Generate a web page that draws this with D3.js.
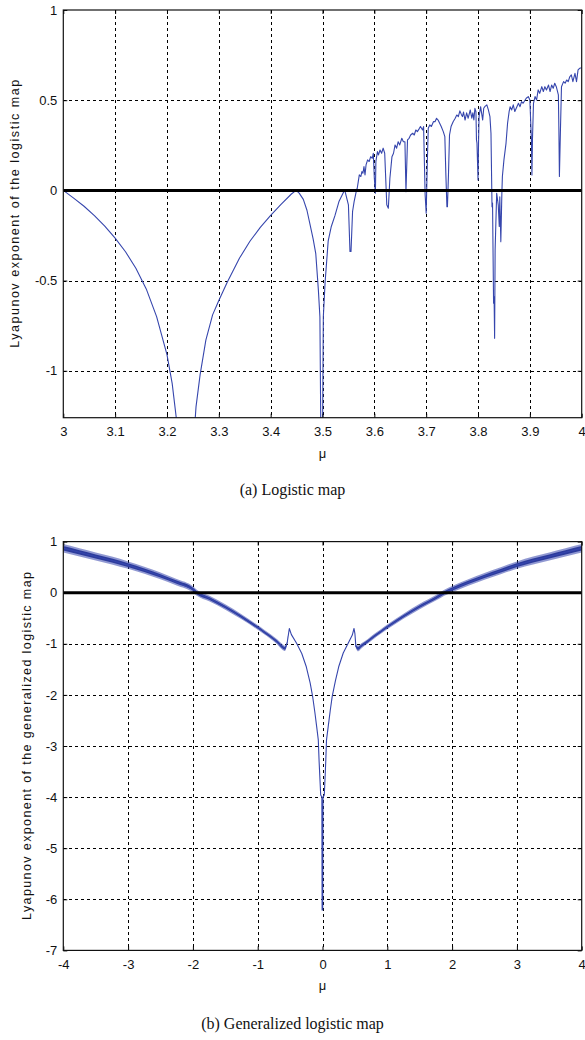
<!DOCTYPE html>
<html>
<head>
<meta charset="utf-8">
<script src="https://cdn.jsdelivr.net/npm/d3@7"></script>
<style>
  body { margin: 0; background: #fff; }
  svg { display: block; }
</style>
</head>
<body>
<svg id="fig" width="585" height="1040"></svg>
<script>
// ---- (a) Lyapunov exponent of the logistic map, mu in [3, 4] ----
const logisticMu = [
  3.000, 3.020, 3.040, 3.060, 3.080, 3.100, 3.120, 3.140, 3.160, 3.180,
  3.200, 3.210, 3.220, 3.228, 3.236, 3.244, 3.250, 3.256, 3.264, 3.275,
  3.288, 3.300, 3.316, 3.340, 3.360, 3.380, 3.400, 3.420, 3.440, 3.449,
  3.455, 3.463, 3.470, 3.476, 3.482, 3.487, 3.492, 3.495, 3.4975, 3.4995,
  3.5016, 3.505, 3.511, 3.517, 3.524, 3.532, 3.5415, 3.5435, 3.550, 3.553,
  3.555, 3.558, 3.561, 3.565, 3.567, 3.569, 3.571, 3.574, 3.576, 3.578,
  3.580, 3.582, 3.584, 3.587, 3.590, 3.593, 3.596, 3.598, 3.600, 3.602,
  3.603, 3.606, 3.608, 3.611, 3.614, 3.617, 3.620, 3.624, 3.627, 3.630,
  3.634, 3.637, 3.640, 3.643, 3.646, 3.649, 3.653, 3.656, 3.659, 3.661,
  3.664, 3.667, 3.670, 3.674, 3.677, 3.680, 3.683, 3.687, 3.689, 3.693,
  3.695, 3.698, 3.700, 3.702, 3.704, 3.707, 3.710, 3.714, 3.717, 3.720,
  3.723, 3.726, 3.729, 3.733, 3.736, 3.738, 3.740, 3.741, 3.743, 3.745,
  3.748, 3.752, 3.756, 3.759, 3.762, 3.765, 3.768, 3.770, 3.772, 3.775,
  3.778, 3.781, 3.785, 3.788, 3.790, 3.792, 3.794, 3.796, 3.797, 3.798,
  3.800, 3.801, 3.802, 3.805, 3.807, 3.809, 3.811, 3.813, 3.817, 3.820,
  3.823, 3.825, 3.827, 3.828, 3.830, 3.831, 3.832, 3.833, 3.836, 3.839,
  3.841, 3.842, 3.844, 3.846, 3.847, 3.850, 3.854, 3.857, 3.860, 3.862,
  3.865, 3.868, 3.871, 3.875, 3.878, 3.881, 3.884, 3.887, 3.893, 3.897,
  3.900, 3.903, 3.904, 3.905, 3.907, 3.910, 3.913, 3.916, 3.919, 3.923,
  3.926, 3.929, 3.932, 3.936, 3.939, 3.942, 3.945, 3.948, 3.951, 3.955,
  3.956, 3.957, 3.959, 3.961, 3.965, 3.968, 3.971, 3.974, 3.977, 3.980,
  3.983, 3.987, 3.990, 3.993, 3.996, 4.000
];
const logisticLambda = [
  0.000, -0.043, -0.088, -0.140, -0.198, -0.265, -0.340, -0.432, -0.546, -0.700,
  -0.910, -1.070, -1.310, -1.700, -2.500, -1.900, -1.450, -1.200, -1.020, -0.830,
  -0.690, -0.610, -0.510, -0.375, -0.282, -0.205, -0.138, -0.077, -0.020, 0.000,
  -0.015, -0.050, -0.110, -0.190, -0.270, -0.350, -0.550, -0.700, -1.600, -1.600,
  -0.700, -0.510, -0.280, -0.200, -0.140, -0.060, -0.005, -0.006, -0.080, -0.339,
  -0.339, -0.117, -0.062, -0.007, 0.012, 0.049, 0.086, 0.077, 0.104, 0.095,
  0.132, 0.086, 0.141, 0.169, 0.160, 0.187, 0.178, 0.206, 0.067, -0.016,
  0.160, 0.215, 0.197, 0.224, 0.206, 0.234, 0.206, -0.080, -0.099, 0.067,
  0.187, 0.206, 0.252, 0.234, 0.270, 0.252, 0.289, 0.270, 0.270, -0.007,
  0.280, 0.289, 0.307, 0.317, 0.307, 0.335, 0.326, 0.344, 0.354, 0.335,
  0.354, -0.025, -0.127, 0.132, 0.344, 0.363, 0.354, 0.381, 0.381, 0.400,
  0.390, 0.372, 0.354, 0.326, 0.298, 0.086, -0.090, -0.090, 0.086, 0.307,
  0.354, 0.381, 0.400, 0.418, 0.409, 0.441, 0.420, 0.409, 0.434, 0.390,
  0.430, 0.400, 0.446, 0.400, 0.430, 0.390, 0.455, 0.437, 0.280, 0.262,
  0.058, 0.262, 0.409, 0.464, 0.427, 0.390, 0.455, 0.464, 0.474, 0.446,
  0.409, 0.317, -0.090, -0.070, -0.625, -0.590, -0.820, -0.330, -0.016, -0.080,
  -0.200, -0.035, -0.284, -0.016, 0.077, 0.169, 0.261, 0.372, 0.437, 0.464,
  0.446, 0.474, 0.437, 0.464, 0.483, 0.464, 0.492, 0.483, 0.511, 0.520,
  0.501, 0.280, 0.086, 0.280, 0.483, 0.520, 0.501, 0.557, 0.538, 0.575,
  0.548, 0.575, 0.557, 0.584, 0.548, 0.584, 0.566, 0.594, 0.575, 0.529,
  0.335, 0.077, 0.335, 0.575, 0.603, 0.594, 0.612, 0.603, 0.630, 0.640,
  0.603, 0.649, 0.603, 0.668, 0.677, 0.680
];
const logisticXTicks = [3, 3.1, 3.2, 3.3, 3.4, 3.5, 3.6, 3.7, 3.8, 3.9, 4];
const logisticYTicks = [-1, -0.5, 0, 0.5, 1];

// ---- (b) Lyapunov exponent of the generalized logistic map, mu in [-4, 4] ----
const genMu = [
  -4.00, -3.75, -3.50, -3.25, -3.00, -2.75, -2.50, -2.25, -2.00, -1.94,
  -1.75, -1.50, -1.25, -1.00, -0.90, -0.80, -0.70, -0.62, -0.58, -0.545,
  -0.512, -0.48, -0.40, -0.32, -0.25, -0.19, -0.15, -0.116, -0.09, -0.065,
  -0.052, -0.028, -0.010, -0.006, 0.003, 0.008, 0.028, 0.050, 0.062, 0.09,
  0.12, 0.15, 0.20, 0.25, 0.32, 0.40, 0.46, 0.486, 0.50, 0.515,
  0.55, 0.60, 0.70, 0.80, 0.90, 1.00, 1.25, 1.50, 1.75, 1.88,
  2.00, 2.25, 2.50, 2.75, 3.00, 3.25, 3.50, 3.75, 4.00
];
const genLambda = [
  0.87, 0.79, 0.71, 0.63, 0.54, 0.44, 0.33, 0.205, 0.066, 0.00,
  -0.11, -0.28, -0.47, -0.68, -0.77, -0.86, -0.96, -1.06, -1.09, -0.98,
  -0.70, -0.82, -0.99, -1.19, -1.45, -1.77, -2.05, -2.36, -2.62, -2.88,
  -3.31, -3.96, -4.00, -6.21, -6.21, -4.00, -3.96, -3.31, -2.88, -2.60,
  -2.30, -2.03, -1.72, -1.45, -1.18, -0.98, -0.83, -0.70, -0.80, -1.05,
  -1.09, -1.04, -0.95, -0.85, -0.76, -0.67, -0.46, -0.27, -0.10, 0.00,
  0.07, 0.20, 0.32, 0.43, 0.54, 0.63, 0.71, 0.79, 0.87
];
// half-width of the fluctuation band around the curve
const genSpread = [
  0.085, 0.082, 0.079, 0.076, 0.072, 0.069, 0.066, 0.063, 0.060, 0.058,
  0.055, 0.052, 0.049, 0.046, 0.045, 0.045, 0.048, 0.055, 0.050, 0.025,
  0, 0, 0, 0, 0, 0, 0, 0, 0, 0,
  0, 0, 0, 0, 0, 0, 0, 0, 0, 0,
  0, 0, 0, 0, 0, 0, 0, 0, 0, 0.035,
  0.055, 0.050, 0.046, 0.045, 0.045, 0.046, 0.049, 0.052, 0.055, 0.058,
  0.060, 0.063, 0.066, 0.069, 0.072, 0.076, 0.079, 0.082, 0.085
];
const genXTicks = [-4, -3, -2, -1, 0, 1, 2, 3, 4];
const genYTicks = [-7, -6, -5, -4, -3, -2, -1, 0, 1];

const curveColor = "#3646ad";
const tickFont = "'Liberation Sans', Arial, sans-serif";
const serifFont = "'Liberation Serif', 'Times New Roman', serif";

const svg = d3.select("#fig");

function drawPanel(cfg) {
  const g = svg.append("g");
  const x = d3.scaleLinear().domain(cfg.xDomain).range([cfg.left, cfg.right]);
  const y = d3.scaleLinear().domain(cfg.yDomain).range([cfg.bottom, cfg.top]);

  const clipId = "clip-" + cfg.id;
  svg.append("clipPath").attr("id", clipId)
    .append("rect")
    .attr("x", cfg.left).attr("y", cfg.top)
    .attr("width", cfg.right - cfg.left).attr("height", cfg.bottom - cfg.top);

  // dashed grid
  const grid = g.append("g").attr("stroke", "#000").attr("stroke-width", 1)
    .attr("stroke-dasharray", "3,3").attr("shape-rendering", "crispEdges");
  grid.selectAll("line.vx")
    .data(cfg.xTicks.filter(t => t > cfg.xDomain[0] && t < cfg.xDomain[1]))
    .join("line")
    .attr("x1", d => Math.round(x(d)) + 0.5).attr("x2", d => Math.round(x(d)) + 0.5)
    .attr("y1", cfg.top).attr("y2", cfg.bottom);
  grid.selectAll("line.hy")
    .data(cfg.yTicks.filter(t => t > cfg.yDomain[0] && t < cfg.yDomain[1] && t !== 0))
    .join("line")
    .attr("y1", d => Math.round(y(d)) + 0.5).attr("y2", d => Math.round(y(d)) + 0.5)
    .attr("x1", cfg.left).attr("x2", cfg.right);

  const plot = g.append("g").attr("clip-path", `url(#${clipId})`);
  const pts = cfg.mu.map((m, i) => ({
    mu: m, l: cfg.lambda[i], s: cfg.spread ? cfg.spread[i] : 0
  }));

  if (cfg.spread) {
    const band = d3.area()
      .x(d => x(d.mu))
      .y0(d => y(d.l - d.s))
      .y1(d => y(d.l + d.s))
      .curve(d3.curveMonotoneX);
    const core = d3.area()
      .x(d => x(d.mu))
      .y0(d => y(d.l - d.s * 0.5))
      .y1(d => y(d.l + d.s * 0.5))
      .curve(d3.curveMonotoneX);
    plot.append("path").attr("d", band(pts))
      .attr("fill", curveColor).attr("fill-opacity", 0.55);
    plot.append("path").attr("d", core(pts))
      .attr("fill", "#2c3b9c");
  }

  const line = d3.line().x(d => x(d.mu)).y(d => y(d.l));
  plot.append("path").attr("d", line(pts))
    .attr("fill", "none").attr("stroke", curveColor)
    .attr("stroke-width", 1.1).attr("stroke-linejoin", "round");

  // reference line at zero
  g.append("line")
    .attr("x1", cfg.left).attr("x2", cfg.right)
    .attr("y1", y(0)).attr("y2", y(0))
    .attr("stroke", "#000").attr("stroke-width", 3);

  // axes with inward ticks
  const fmt = d => String(d);
  const xAxis = g.append("g").attr("transform", `translate(0,${cfg.bottom})`)
    .call(d3.axisBottom(x).tickValues(cfg.xTicks).tickFormat(fmt)
      .tickSize(-4).tickPadding(9));
  const yAxis = g.append("g").attr("transform", `translate(${cfg.left},0)`)
    .call(d3.axisLeft(y).tickValues(cfg.yTicks).tickFormat(fmt)
      .tickSize(-4).tickPadding(6));
  g.append("g").attr("transform", `translate(0,${cfg.top})`)
    .call(d3.axisTop(x).tickValues(cfg.xTicks).tickFormat("").tickSize(-4));
  g.append("g").attr("transform", `translate(${cfg.right},0)`)
    .call(d3.axisRight(y).tickValues(cfg.yTicks).tickFormat("").tickSize(-4));
  g.selectAll(".domain").remove();
  g.selectAll(".tick line").attr("stroke", "#000");
  [xAxis, yAxis].forEach(a => a.selectAll("text")
    .attr("font-family", tickFont).attr("font-size", 13).attr("fill", "#111"));

  // axes box
  g.append("rect")
    .attr("x", cfg.left).attr("y", cfg.top)
    .attr("width", cfg.right - cfg.left).attr("height", cfg.bottom - cfg.top)
    .attr("fill", "none").attr("stroke", "#111").attr("stroke-width", 1.2);

  // axis labels
  g.append("text")
    .attr("x", (cfg.left + cfg.right) / 2).attr("y", cfg.muBaseline)
    .attr("text-anchor", "middle")
    .attr("font-family", tickFont).attr("font-size", 13).attr("fill", "#111")
    .text("μ");
  g.append("text")
    .attr("transform", `translate(${cfg.yLabelX},${(cfg.top + cfg.bottom) / 2}) rotate(-90)`)
    .attr("text-anchor", "middle")
    .attr("font-family", tickFont).attr("font-size", 12.5).attr("fill", "#111")
    .attr("textLength", cfg.yLabelLength).attr("lengthAdjust", "spacing")
    .text(cfg.yLabel);

  // caption
  g.append("text")
    .attr("x", 292.5).attr("y", cfg.captionBaseline)
    .attr("text-anchor", "middle")
    .attr("font-family", serifFont).attr("font-size", 16).attr("fill", "#111")
    .text(cfg.caption);
}

drawPanel({
  id: "a",
  left: 63.3, right: 581.7, top: 10, bottom: 417.7,
  xDomain: [3, 4], yDomain: [-1.26, 1],
  xTicks: logisticXTicks, yTicks: logisticYTicks,
  mu: logisticMu, lambda: logisticLambda,
  yLabel: "Lyapunov exponent of the logistic map",
  yLabelX: 18.5, yLabelLength: 268,
  muBaseline: 458, caption: "(a) Logistic map", captionBaseline: 495
});

drawPanel({
  id: "b",
  left: 63.3, right: 581.7, top: 541.6, bottom: 950.4,
  xDomain: [-4, 4], yDomain: [-7, 1],
  xTicks: genXTicks, yTicks: genYTicks,
  mu: genMu, lambda: genLambda, spread: genSpread,
  yLabel: "Lyapunov exponent of the generalized logistic map",
  yLabelX: 31, yLabelLength: 348,
  muBaseline: 990, caption: "(b) Generalized logistic map", captionBaseline: 1029
});
</script>
</body>
</html>
